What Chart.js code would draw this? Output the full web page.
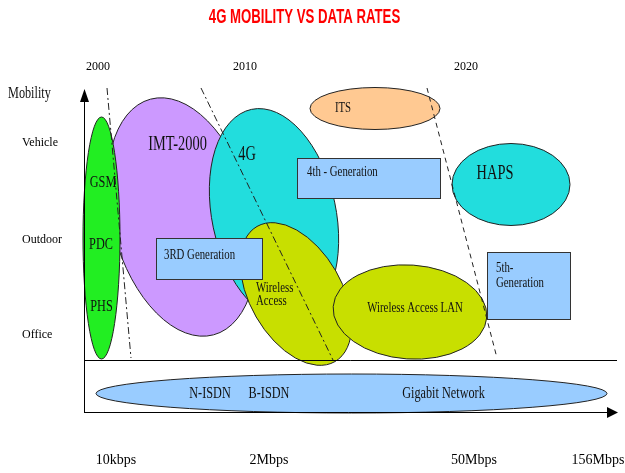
<!DOCTYPE html>
<html>
<head>
<meta charset="utf-8">
<style>
  html, body { margin: 0; padding: 0; background: #fff; }
  canvas { display: block; }
</style>
</head>
<body>
<canvas id="mobilityChart" width="625" height="473"></canvas>

<script src="https://cdn.jsdelivr.net/npm/chart.js"></script>
<script>
  // x = position along the data-rate axis, y = position along the mobility axis
  // (0,0) is where the two arrows meet
  const rateTicks = [31, 184, 389, 513];
  const rateLabels = ['10kbps', '2Mbps', '50Mbps', '156Mbps'];
  const yearTicks = [13, 160, 381];
  const yearLabels = ['2000', '2010', '2020'];
  const mobilityTicks = [78, 173, 270];
  const mobilityLabels = ['Office', 'Outdoor', 'Vehicle'];

  // technology areas (ellipses): centre, half extent, tilt in degrees
  const areaNames = ['IMT-2000', 'GSM/PDC/PHS', '4G', 'Wireless Access', 'Wireless Access LAN', 'ITS', 'HAPS', 'Networks'];
  const areaX  = [97, 16.5, 189, 211, 325, 290, 426, 266.5];
  const areaY  = [196, 175, 198, 119, 101, 304.5, 228.5, 19.5];
  const areaRx = [70, 18.5, 62, 46, 77, 65, 59, 255.5];
  const areaRy = [122, 121, 108, 78, 47, 21, 41, 19.5];
  const areaTilt = [-15, 0, -12, -30, 4, 0, 0, 0];

  // generation boxes
  const boxNames = ['3RD Generation', '4th - Generation', '5th- Generation'];
  const boxX0 = [71, 212, 402];
  const boxX1 = [177, 355, 485];
  const boxY0 = [134, 215, 94];
  const boxY1 = [175, 255, 161];

  // generation boundaries (dashed), from top to bottom
  const borderTopX = [22, 116, 342];
  const borderBottomX = [46, 248, 412];
  const borderTopY = 325;
  const borderBottomY = [55, 53, 55];

  const labelTexts = ['IMT-2000', '4G', 'GSM', 'PDC', 'PHS', 'ITS', 'HAPS',
    '3RD Generation', '4th - Generation', 'Wireless', 'Access', 'Wireless Access LAN',
    '5th-', 'Generation', 'N-ISDN', 'B-ISDN', 'Gigabit Network', 'Mobility'];
  const labelX = [92.5, 162, 18, 16, 16.5, 258, 410, 79, 222, 171, 171, 330, 411, 411, 125, 184, 358.5, -77];
  const labelY = [268, 258, 230, 168, 106, 304.5, 239.5, 158, 241, 125, 112, 105, 145, 130, 19, 19, 19, 319];

  const chartTitle = '4G MOBILITY VS DATA RATES';

  // styles
  const areaColors = ['#cc99ff', '#22ee22', '#22dddd', '#c8df00', '#c8df00', '#ffc992', '#22dddd', '#99ccff'];
  const labelSize = [20, 20, 17, 17, 17, 15, 20, 15, 15, 15, 15, 15, 15, 15, 17, 17, 17, 17];
  const labelAlign = ['center', 'center', 'center', 'center', 'center', 'center', 'center',
    'left', 'left', 'left', 'left', 'center', 'left', 'left', 'center', 'center', 'center', 'left'];
  const serif = '"Liberation Serif", "Times New Roman", serif';

  function makeArrow(w, h) {
    const c = document.createElement('canvas');
    c.width = w;
    c.height = h;
    const g = c.getContext('2d');
    g.fillStyle = '#000';
    g.beginPath();
    g.moveTo(w / 2, 0);
    g.lineTo(w, h);
    g.lineTo(0, h);
    g.closePath();
    g.fill();
    return c;
  }

  function drawText(ctx, text, px, py, font, align, color, squeeze) {
    ctx.save();
    ctx.translate(px, py);
    ctx.scale(squeeze, 1);
    ctx.font = font;
    ctx.fillStyle = color;
    ctx.textAlign = align;
    ctx.textBaseline = 'middle';
    ctx.fillText(text, 0, 0);
    ctx.restore();
  }

  const diagramPlugin = {
    id: 'diagram',
    beforeDatasetsDraw(chart) {
      const { ctx } = chart;
      const xs = chart.scales.x;
      const ys = chart.scales.y;
      ctx.save();
      ctx.lineWidth = 1;
      ctx.strokeStyle = '#222';

      areaNames.forEach((name, i) => {
        const cx = xs.getPixelForValue(areaX[i]);
        const cy = ys.getPixelForValue(areaY[i]);
        const rx = Math.abs(xs.getPixelForValue(areaX[i] + areaRx[i]) - cx);
        const ry = Math.abs(ys.getPixelForValue(areaY[i] + areaRy[i]) - cy);
        ctx.beginPath();
        ctx.ellipse(cx, cy, rx, ry, areaTilt[i] * Math.PI / 180, 0, Math.PI * 2);
        ctx.fillStyle = areaColors[i];
        ctx.fill();
        ctx.stroke();
      });

      boxNames.forEach((name, i) => {
        const x0 = Math.round(xs.getPixelForValue(boxX0[i])) + 0.5;
        const x1 = Math.round(xs.getPixelForValue(boxX1[i])) + 0.5;
        const y0 = Math.round(ys.getPixelForValue(boxY1[i])) + 0.5;
        const y1 = Math.round(ys.getPixelForValue(boxY0[i])) + 0.5;
        ctx.fillStyle = '#99ccff';
        ctx.fillRect(x0, y0, x1 - x0, y1 - y0);
        ctx.strokeStyle = '#333';
        ctx.strokeRect(x0, y0, x1 - x0, y1 - y0);
      });

      labelTexts.forEach((t, i) => {
        drawText(ctx, t, xs.getPixelForValue(labelX[i]), ys.getPixelForValue(labelY[i]),
          labelSize[i] + 'px ' + serif, labelAlign[i], '#111', 0.72);
      });

      drawText(ctx, chartTitle, xs.getPixelForValue(219.5), ys.getPixelForValue(396),
        'bold 20px "Liberation Sans", Arial, sans-serif', 'center', '#ff0000', 0.66);
      ctx.restore();
    }
  };

  const upArrow = makeArrow(9, 13);
  const rightArrow = makeArrow(11, 11);

  const lineStyle = { showLine: true, pointRadius: 0, borderColor: '#000', borderWidth: 1, clip: false };

  const datasets = [
    { ...lineStyle, data: [{ x: -0.5, y: 0 }, { x: -0.5, y: 317.5 }] },
    { ...lineStyle, data: [{ x: -0.5, y: 0.5 }, { x: 527.5, y: 0.5 }] },
    { ...lineStyle, data: [{ x: -0.5, y: 52.5 }, { x: 532, y: 52.5 }] },
    { showLine: false, clip: false, data: [{ x: -0.5, y: 317.5 }], pointRadius: 5, pointStyle: upArrow },
    { showLine: false, clip: false, data: [{ x: 527.5, y: 0.5 }], pointRadius: 5, pointStyle: rightArrow, rotation: 90 }
  ];
  borderTopX.forEach((x, i) => {
    datasets.push({
      ...lineStyle,
      borderColor: '#222',
      borderDash: i < 2 ? [7, 3, 2, 3] : [5, 4],
      data: [{ x: x, y: borderTopY }, { x: borderBottomX[i], y: borderBottomY[i] }]
    });
  });

  const tickFont = size => ({ family: serif, size: size });

  // fixed axis box sizes, and no extra room for overhanging tick labels
  const fixSize = (w, h) => s => {
    if (w !== null) s.width = w;
    if (h !== null) s.height = h;
    s.paddingLeft = 0;
    s.paddingRight = 0;
    s.paddingTop = 0;
    s.paddingBottom = 0;
  };

  new Chart(document.getElementById('mobilityChart'), {
    type: 'scatter',
    data: { datasets },
    options: {
      responsive: false,
      animation: false,
      events: [],
      layout: { padding: { left: 22, top: 0, right: 0, bottom: 0 }, autoPadding: false },
      plugins: { legend: { display: false }, tooltip: { enabled: false } },
      scales: {
        x: {
          type: 'linear',
          position: 'bottom',
          min: 0,
          max: 540,
          grid: { display: false, drawTicks: false },
          border: { display: false },
          afterBuildTicks: s => { s.ticks = rateTicks.map(v => ({ value: v })); },
          afterFit: fixSize(null, 60),
          ticks: {
            autoSkip: false,
            maxRotation: 0,
            padding: 39,
            color: '#000',
            font: tickFont(14),
            callback: (v, i) => rateLabels[i]
          }
        },
        years: {
          type: 'linear',
          axis: 'x',
          position: 'top',
          min: 0,
          max: 540,
          grid: { display: false, drawTicks: false },
          border: { display: false },
          afterBuildTicks: s => { s.ticks = yearTicks.map(v => ({ value: v })); },
          afterFit: fixSize(null, 88),
          ticks: {
            autoSkip: false,
            maxRotation: 0,
            padding: 14,
            color: '#000',
            font: tickFont(12),
            callback: (v, i) => yearLabels[i]
          }
        },
        y: {
          type: 'linear',
          position: 'left',
          min: 0,
          max: 325,
          grid: { display: false, drawTicks: false },
          border: { display: false },
          afterBuildTicks: s => { s.ticks = mobilityTicks.map(v => ({ value: v })); },
          afterFit: fixSize(63, null),
          ticks: {
            autoSkip: false,
            crossAlign: 'far',
            color: '#000',
            font: tickFont(12),
            callback: (v, i) => mobilityLabels[i]
          }
        }
      }
    },
    plugins: [diagramPlugin]
  });
</script>
</body>
</html>
